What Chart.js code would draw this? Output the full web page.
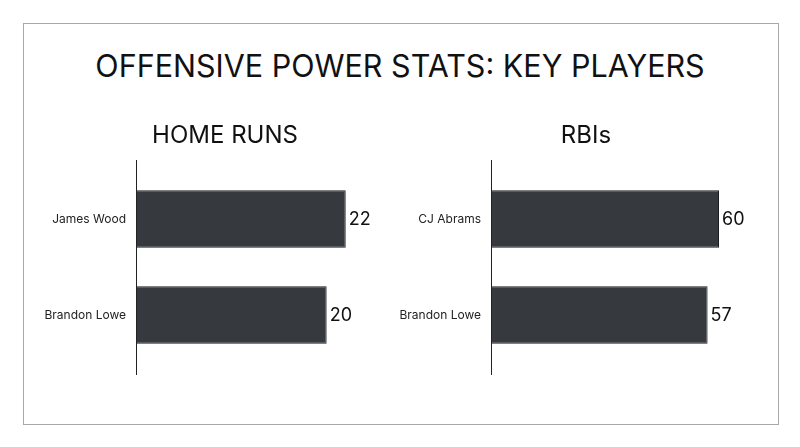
<!DOCTYPE html>
<html>
<head>
<meta charset="utf-8">
<script src="https://cdn.jsdelivr.net/npm/chart.js@4.4.0/dist/chart.umd.min.js"></script>
<style>
  body { margin: 0; background: #fff; width: 800px; height: 447px; position: relative; overflow: hidden; }
  .frame { position: absolute; left: 23px; top: 23px; width: 754px; height: 400px; border: 1px solid #a8a8a8; }
  .title { position: absolute; left: 0; width: 800px; top: 47px; text-align: center;
           font-family: Inter, sans-serif; font-size: 30.5px; line-height: 38px; color: #111; }
  canvas { position: absolute; }
  #hr { left: 28px; top: 100px; }
  #rbi { left: 396px; top: 100px; }
</style>
</head>
<body>
<div class="frame"></div>
<div class="title">OFFENSIVE POWER STATS: KEY PLAYERS</div>
<canvas id="hr" width="394" height="300"></canvas>
<canvas id="rbi" width="380" height="300"></canvas>
<script>
const hrPlayers = ["James Wood", "Brandon Lowe"];
const hrValues = [22, 20];
const rbiPlayers = ["CJ Abrams", "Brandon Lowe"];
const rbiValues = [60, 57];

const barColor = "#363a3e";

// value at the end of each bar + the long left axis line
const barExtras = {
  id: "barExtras",
  afterDatasetsDraw(chart) {
    const { ctx, chartArea } = chart;
    ctx.save();
    ctx.strokeStyle = "#222";
    ctx.lineWidth = 1;
    ctx.beginPath();
    ctx.moveTo(chartArea.left + 0.5, chartArea.top - 11);
    ctx.lineTo(chartArea.left + 0.5, chartArea.bottom + 12);
    ctx.stroke();

    ctx.fillStyle = "#111";
    ctx.font = "18px Inter, sans-serif";
    ctx.textBaseline = "middle";
    ctx.textAlign = "left";
    const meta = chart.getDatasetMeta(0);
    meta.data.forEach((bar, i) => {
      ctx.fillText(chart.data.datasets[0].data[i], bar.x + 3, bar.y + 1);
    });
    ctx.restore();
  },
};

function makeChart(id, title, labels, values, max, axisWidth) {
  return new Chart(document.getElementById(id), {
    type: "bar",
    data: {
      labels: labels,
      datasets: [{
        data: values,
        backgroundColor: barColor,
        borderColor: "#1b1e21",
        borderWidth: 1,
        categoryPercentage: 1,
        barPercentage: 0.6,
      }],
    },
    options: {
      indexAxis: "y",
      responsive: false,
      animation: false,
      layout: { padding: { top: 0, right: 0, bottom: 37, left: 0 } },
      plugins: {
        legend: { display: false },
        tooltip: { enabled: false },
        title: {
          display: true,
          text: title,
          color: "#111",
          font: { family: "Inter", size: 24, weight: "normal" },
          padding: { top: 21.6, bottom: 20.6 },
        },
      },
      scales: {
        x: { display: false, min: 0, max: max },
        y: {
          grid: { display: false, drawTicks: false },
          border: { display: false },
          ticks: { color: "#222", font: { family: "Inter", size: 12 }, padding: 10 },
          afterFit(scale) { scale.width = axisWidth; },
        },
      },
    },
    plugins: [barExtras],
  });
}

makeChart("hr", "HOME RUNS", hrPlayers, hrValues, 30, 108);
makeChart("rbi", "RBIs", rbiPlayers, rbiValues, 75, 95);
</script>
</body>
</html>
